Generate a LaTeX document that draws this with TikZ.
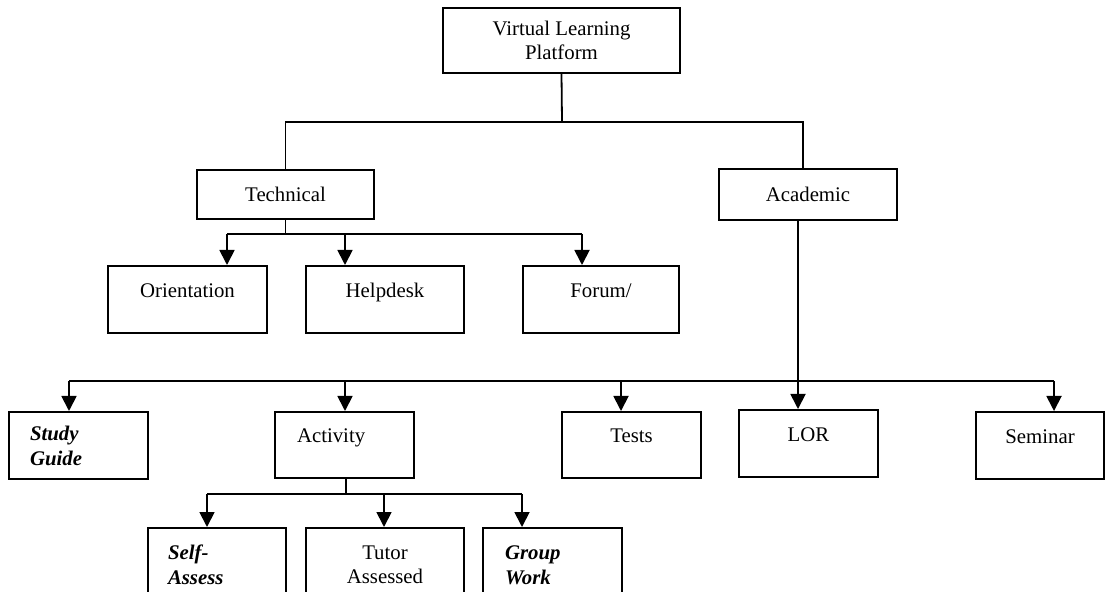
\documentclass[tikz,border=0pt]{standalone}
\usepackage{fontspec}
\setmainfont{Liberation Serif}
\usetikzlibrary{arrows.meta}
\begin{document}
\begin{tikzpicture}[x=0.5pt,y=-0.5pt,
  box/.style={draw, line width=1pt, rectangle, inner sep=3pt,
    font=\fontsize{10.4}{12}\selectfont, align=center},
  hi/.style={text height=7pt, text depth=#1},
  lbox/.style={box, align=left, inner xsep=#1},
  bi/.style={font=\fontsize{10.4}{12.5}\selectfont\bfseries\itshape},
  conn/.style={line width=0.9pt},
  arr/.style={conn, -{Triangle[width=7.5pt,length=7.5pt]}}]
\useasboundingbox (0,0) rectangle (1106,592);

% level 0
\node[box, text depth=-1pt, minimum width=118.5pt, minimum height=32.5pt] (vlp) at (561.5,40.5) {Virtual Learning\\Platform};
% level 1
\node[box, minimum width=88.5pt, minimum height=24.5pt] (tech) at (285.5,194.5) {Technical};
\node[box, minimum width=89pt, minimum height=25.5pt] (acad) at (808,194.5) {Academic};
% technical children
\node[box, hi=9pt, minimum width=79.5pt, minimum height=33.5pt] (orient) at (187.5,299.5) {Orientation};
\node[box, hi=9pt, minimum width=79pt, minimum height=33.5pt] (help) at (385,299.5) {Helpdesk};
\node[box, hi=9pt, minimum width=78pt, minimum height=33.5pt] (forum) at (601,299.5) {Forum/};
% academic children
\node[lbox=10.5pt, bi, text width=48.5pt, minimum height=33.5pt] (study) at (78.5,445.5) {Study\\Guide};
\node[lbox=11pt, hi=9.5pt, text width=47.5pt, minimum height=33pt] (act) at (344.5,445) {Activity};
\node[box, hi=9.5pt, minimum width=69.5pt, minimum height=33pt] (tests) at (631.5,445) {Tests};
\node[box, hi=9.5pt, minimum width=69.5pt, minimum height=33.5pt] (lor) at (808.5,443.5) {LOR};
\node[box, hi=9.5pt, minimum width=64pt, minimum height=33.5pt] (sem) at (1040,445.5) {Seminar};
% activity children
\node[lbox=10pt, bi, text width=49pt, minimum height=37pt] (self) at (217,565) {Self-\\Assess};
\node[box, minimum width=79pt, minimum height=37pt] (tutor) at (385,565) {Tutor\\Assessed};
\node[lbox=11pt, bi, text width=47.5pt, minimum height=37pt] (group) at (552.5,565) {Group\\Work};

% top bus
\coordinate (b1) at (562,122);
\coordinate (a1) at (803,122);
\draw[conn] (vlp.south) -- (b1);
\draw[conn] (tech.north) |- (b1);
\draw[conn] (b1) -- (a1) -- (a1 |- acad.north);

% technical bus
\coordinate (t0) at (285.5,234);
\coordinate (t1) at (227,234);
\coordinate (t2) at (345,234);
\coordinate (t3) at (582,234);
\draw[conn] (tech.south) -- (t0);
\draw[conn] (t1) -- (t3);
\draw[arr] (t1) -- (t1 |- orient.north);
\draw[arr] (t2) -- (t2 |- help.north);
\draw[arr] (t3) -- (t3 |- forum.north);

% academic bus
\coordinate (a2) at (798,381);
\coordinate (s1) at (69,381);
\coordinate (s2) at (345,381);
\coordinate (s3) at (621,381);
\coordinate (s4) at (1054,381);
\draw[arr] (a2 |- acad.south) -- (a2 |- lor.north);
\draw[conn] (s1) -- (s4);
\draw[arr] (s1) -- (s1 |- study.north);
\draw[arr] (s2) -- (s2 |- act.north);
\draw[arr] (s3) -- (s3 |- tests.north);
\draw[arr] (s4) -- (s4 |- sem.north);

% activity bus
\coordinate (c0) at (346,494);
\coordinate (c1) at (207,494);
\coordinate (c2) at (384,494);
\coordinate (c3) at (522,494);
\draw[conn] (c0 |- act.south) -- (c0);
\draw[conn] (c1) -- (c3);
\draw[arr] (c1) -- (c1 |- self.north);
\draw[arr] (c2) -- (c2 |- tutor.north);
\draw[arr] (c3) -- (c3 |- group.north);
\end{tikzpicture}
\end{document}
